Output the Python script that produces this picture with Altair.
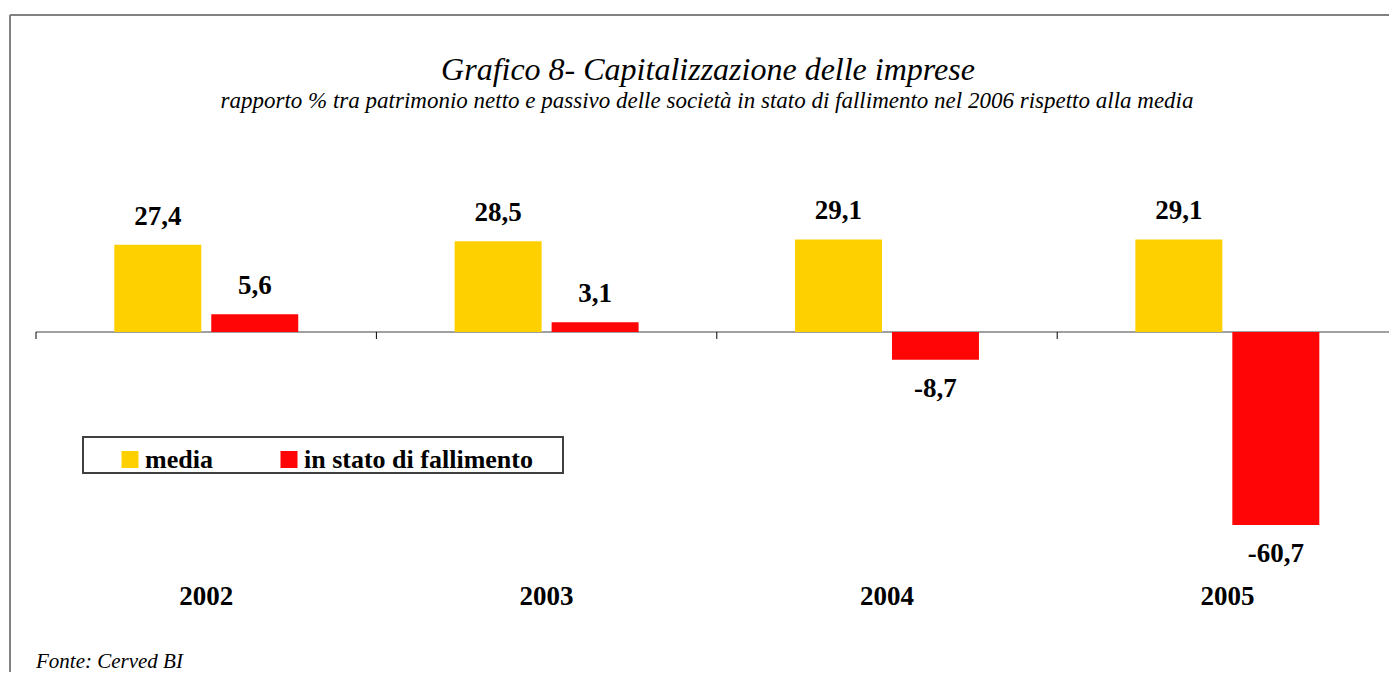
import altair as alt
import pandas as pd

years = ["2002", "2003", "2004", "2005"]
series = ["media", "in stato di fallimento"]
media = [27.4, 28.5, 29.1, 29.1]
fallimento = [5.6, 3.1, -8.7, -60.7]
colors = ["#FFD000", "#FF0505"]
tick_positions = [0, 1, 2, 3, 4]

title_text = "Grafico 8- Capitalizzazione delle imprese"
subtitle_text = "rapporto % tra patrimonio netto e passivo delle società in stato di fallimento nel 2006 rispetto alla media"
source_text = "Fonte: Cerved BI"

rows = []
for i, y in enumerate(years):
    rows.append({"anno": y, "serie": series[0], "valore": media[i]})
    rows.append({"anno": y, "serie": series[1], "valore": fallimento[i]})
df = pd.DataFrame(rows)
df["etichetta"] = df["valore"].map(lambda v: f"{v:.1f}".replace(".", ","))

years_df = pd.DataFrame({"anno": years})
ticks_df = pd.DataFrame({"pos": tick_positions, "y0": [0] * 5, "y1": [-2.2] * 5})
zero_df = pd.DataFrame({"a": [tick_positions[0]], "b": [tick_positions[-1]], "y0": [0]})

SERIF = "Liberation Serif"
X_RANGE = [28, 1389.6]

xs = alt.Scale(domain=years, range=X_RANGE, paddingInner=0.4595, paddingOuter=0.23)
xo = alt.Scale(domain=series, paddingInner=0.103, paddingOuter=0)
xo_text = alt.Scale(type="point", domain=series, padding=0.4485)
ys = alt.Scale(domain=[-80, 40], range=[578.4, 196.8])

X = alt.X("anno:N", scale=xs, axis=None, sort=years)
XO = alt.XOffset("serie:N", scale=xo, sort=series)
XOT = alt.XOffset("serie:N", scale=xo_text, sort=series)
Y = alt.Y("valore:Q", scale=ys, axis=None)

base = alt.Chart(df)

bars = base.mark_bar(strokeWidth=0).encode(
    x=X, xOffset=XO, y=Y,
    color=alt.Color(
        "serie:N",
        scale=alt.Scale(domain=series, range=colors),
        sort=series,
        legend=alt.Legend(
            title=None, orient="none", direction="horizontal",
            legendX=109, legendY=438.5,
            symbolType="square", symbolSize=289, symbolStrokeWidth=0,
            symbolOpacity=1,
            labelFont=SERIF, labelFontWeight="bold", labelFontSize=26,
            labelColor="black", labelOffset=2, labelLimit=500, columnPadding=63,
            padding=0,
        ),
    ),
)

lab_style = dict(font=SERIF, fontWeight="bold", fontSize=27, color="black", baseline="middle", align="center")
labels_pos = base.transform_filter("datum.valore >= 0").mark_text(dy=-28, **lab_style).encode(
    x=X, xOffset=XOT, y=Y, text="etichetta:N")
labels_neg = base.transform_filter("datum.valore < 0").mark_text(dy=29, **lab_style).encode(
    x=X, xOffset=XOT, y=Y, text="etichetta:N")

year_labels = alt.Chart(years_df).mark_text(
    font=SERIF, fontWeight="bold", fontSize=27, color="black", baseline="alphabetic", align="center"
).encode(x=X, y=alt.value(597), text="anno:N")

qx = alt.Scale(domain=[0, 4], range=X_RANGE)
zero_line = alt.Chart(zero_df).mark_rule(color="#808080", strokeWidth=1.5).encode(
    x=alt.X("a:Q", scale=qx, axis=None), x2="b:Q",
    y=alt.Y("y0:Q", scale=ys, axis=None))
ticks = alt.Chart(ticks_df).mark_rule(color="black", strokeWidth=1).encode(
    x=alt.X("pos:Q", scale=qx, axis=None),
    y=alt.Y("y0:Q", scale=ys, axis=None), y2="y1:Q")

legend_box = alt.Chart(years_df).mark_rect(fill=None, stroke="#404040", strokeWidth=1.5).encode(
    x=alt.value(75), x2=alt.value(555), y=alt.value(429), y2=alt.value(465))

frame_top = alt.Chart(years_df).mark_rule(color="#808080", strokeWidth=1.5).encode(
    x=alt.value(2), x2=alt.value(3000), y=alt.value(7))
frame_left = alt.Chart(years_df).mark_rule(color="#808080", strokeWidth=1.5).encode(
    x=alt.value(2), y=alt.value(7), y2=alt.value(3000))

title = alt.Chart(pd.DataFrame({"t": [title_text]})).mark_text(
    font=SERIF, fontStyle="italic", fontSize=32, color="black", align="center", baseline="alphabetic"
).encode(x=alt.value(700), y=alt.value(72), text="t:N")
subtitle = alt.Chart(pd.DataFrame({"t": [subtitle_text]})).mark_text(
    font=SERIF, fontStyle="italic", fontSize=23, color="black", align="center", baseline="alphabetic"
).encode(x=alt.value(699), y=alt.value(100), text="t:N")
source = alt.Chart(pd.DataFrame({"t": [source_text]})).mark_text(
    font=SERIF, fontStyle="italic", fontSize=21, color="black", align="left", baseline="alphabetic"
).encode(x=alt.value(28), y=alt.value(660), text="t:N")

chart = alt.layer(
    frame_top, frame_left, zero_line, ticks, bars, labels_pos, labels_neg, year_labels,
    legend_box, title, subtitle, source
).resolve_scale(x="independent", xOffset="independent").properties(
    width=1381, height=664, autosize=alt.AutoSizeParams(type="none"), padding=0,
    background="white",
).configure_view(stroke=None)

chart.save("out.html", embed_options={"renderer": "svg", "actions": False})
